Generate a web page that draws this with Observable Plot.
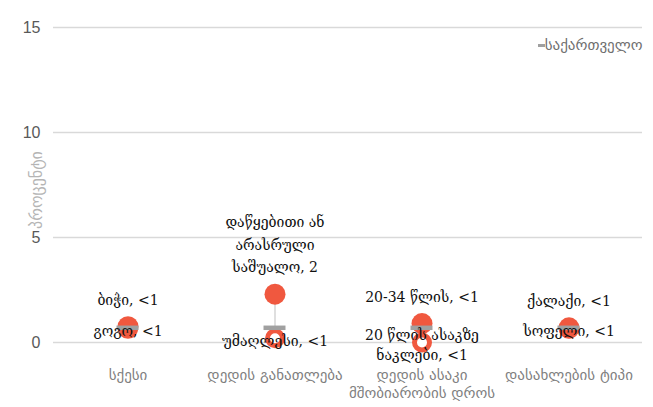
<!DOCTYPE html>
<html>
<head>
<meta charset="utf-8">
<script src="https://cdn.jsdelivr.net/npm/d3@7"></script>
<script src="https://cdn.jsdelivr.net/npm/@observablehq/plot@0.6"></script>
<style>
  html, body { margin: 0; padding: 0; background: #fff; }
</style>
</head>
<body>
<div id="chart"></div>
<script>
const categories = ["სქესი", "დედის განათლება", "დედის ასაკი მშობიარობის დროს", "დასახლების ტიპი"];
const categoryLabels = ["სქესი", "დედის განათლება", "დედის ასაკი\nმშობიარობის დროს", "დასახლების ტიპი"];
const highValues = [0.75, 2.3, 0.9, 0.7];
const highLabels = ["ბიჭი, <1", "დაწყებითი ან\nარასრული\nსაშუალო, 2", "20-34 წლის, <1", "ქალაქი, <1"];
const lowValues = [0.65, 0.2, 0.0, 0.65];
const lowLabels = ["გოგო, <1", "უმაღლესი, <1", "20 წლის ასაკზე\nნაკლები, <1", "სოფელი, <1"];
const nationalValues = [0.7, 0.7, 0.7, 0.7];
const nationalName = "საქართველო";
const yTicks = [0, 5, 10, 15];
const yLabel = "პროცენტი";

const rows = categories.map((c, i) => ({
  cat: c,
  hi: highValues[i], hiLabel: highLabels[i],
  lo: lowValues[i], loLabel: lowLabels[i],
  nat: nationalValues[i]
}));
const labelMap = new Map(categories.map((c, i) => [c, categoryLabels[i]]));

const red = "#f0583f";
const gray = "#a0a0a0";
const dashSymbol = { draw(ctx) { ctx.rect(-3.5, -1.5, 7, 3); } };

const chart = Plot.plot({
  width: 653,
  height: 407,
  marginTop: 27,
  marginBottom: 65,
  marginLeft: 53,
  marginRight: 11,
  style: { fontFamily: "DejaVu Sans, sans-serif", background: "#fff" },
  x: { domain: categories, padding: 0, label: null },
  y: { domain: [0, 15], ticks: yTicks, label: null },
  marks: [
    Plot.ruleY(yTicks, { stroke: "#d9d9d9", strokeWidth: 1.3 }),
    Plot.axisY({ ticks: yTicks, tickSize: 0, tickPadding: 13, fontSize: 16, fill: "#595959", fontFamily: "Liberation Sans, Arial, sans-serif", label: null }),
    Plot.axisX({ tickSize: 0, tickPadding: 25, fontSize: 15, fill: "#7f7f7f", label: null, lineHeight: 1.2, tickFormat: d => labelMap.get(d) }),
    Plot.text([yLabel], { frameAnchor: "left", textAnchor: "middle", dx: -17, dy: 5, rotate: -90, fontSize: 16, fill: "#b5b5b5" }),
    Plot.ruleX(rows, { x: "cat", y1: "lo", y2: "hi", stroke: "#bfbfbf", strokeWidth: 1 }),
    Plot.dot(rows, { x: "cat", y: "lo", r: 7.5, fill: "#fff", stroke: red, strokeWidth: 5 }),
    Plot.dot(rows, { x: "cat", y: "hi", r: 10.5, fill: red, stroke: "none" }),
    Plot.tickY(rows, { x: "cat", y: "nat", stroke: gray, strokeWidth: 4.5, insetLeft: 62.5, insetRight: 62.5 }),
    Plot.text(rows, { x: "cat", y: "hi", text: "hiLabel", lineAnchor: "bottom", dy: -22, fontSize: 14, lineHeight: 1.6, fill: "#111", fontFamily: "DejaVu Serif, serif" }),
    Plot.text(rows, { x: "cat", y: "lo", text: "loLabel", lineAnchor: "middle", dy: 1, fontSize: 14, lineHeight: 1.45, fill: "#111", fontFamily: "DejaVu Serif, serif" }),
    Plot.dot([nationalName], { frameAnchor: "top-right", dx: -101, dy: 18, symbol: dashSymbol, r: 3, fill: gray }),
    Plot.text([nationalName], { frameAnchor: "top-right", dx: 0, dy: 18, textAnchor: "end", lineAnchor: "middle", fontSize: 15, fill: "#6f6f6f" })
  ]
});
document.getElementById("chart").appendChild(chart);
</script>
</body>
</html>
